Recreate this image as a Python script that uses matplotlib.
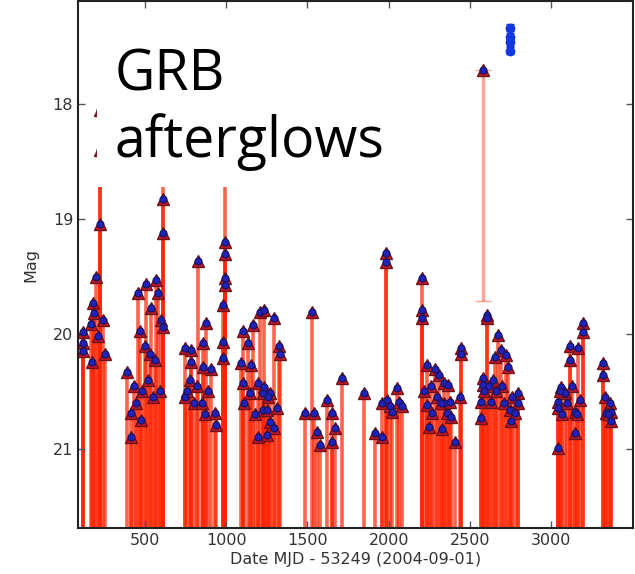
import numpy as np
import matplotlib
matplotlib.use('Agg')
import matplotlib.pyplot as plt
from matplotlib.patches import Rectangle

# detections: date (MJD - 53249) and magnitude
dates = [118, 118, 118, 221, 198, 180, 170, 174, 252, 211, 185, 240, 221, 221,
         389, 414, 414, 457, 506, 469, 500, 537, 568, 580, 611, 611, 599, 611, 562, 531, 611,
         430, 445, 480, 520, 550, 590, 475,
         826, 876, 857, 746, 783, 783, 777, 746, 906, 931, 937, 857,
         760, 800, 820, 850, 890, 870,
         993, 993, 993, 993, 980, 980, 980, 993,
         1103, 1134, 1165, 1208, 1091, 1103, 1153, 1147, 1196, 1227, 1196, 1227,
         1233, 1294, 1325, 1331, 1233, 1270, 1251, 1313, 1270, 1251, 1294,
         1110, 1180, 1260,
         1528, 1485, 1541, 1559, 1578, 1621, 1652, 1670, 1652, 1713,
         1849,
         1916, 1959, 1959, 1990, 2009, 2052, 2064, 2083, 2021, 1984, 1984,
         2206, 2206, 2206, 2237, 2286, 2311, 2341, 2237, 2268, 2341, 2360, 2329, 2249,
         2220, 2260, 2300, 2320,
         2446, 2446, 2440, 2378, 2384, 2409, 2366,
         2581, 2581, 2569, 2569, 2606, 2606, 2674, 2655, 2692, 2723, 2735, 2631,
         2748, 2754, 2797, 2797, 2779,
         2590, 2620, 2640, 2660, 2700, 2710, 2760,
         3062, 3087, 3043, 3043, 3043, 3117, 3117, 3166, 3148, 3179, 3197, 3197, 3148,
         3055, 3070, 3100, 3130, 3160,
         3320, 3320, 3363, 3370, 3370, 3339, 3330, 3350]
mags = [19.98, 20.08, 20.15, 19.04, 19.50, 19.73, 19.91, 20.24, 20.17, 20.02, 19.82, 19.88, 18.05, 18.40,
        20.33, 20.69, 20.90, 19.64, 19.56, 19.97, 20.10, 19.77, 19.53, 19.64, 18.82, 19.12, 19.88, 19.94, 20.23, 20.17, 18.50,
        20.45, 20.60, 20.50, 20.40, 20.55, 20.50, 20.75,
        19.36, 19.90, 20.08, 20.12, 20.14, 20.24, 20.40, 20.55, 20.30, 20.69, 20.79, 20.29,
        20.50, 20.60, 20.45, 20.60, 20.50, 20.70,
        19.20, 19.30, 19.51, 19.57, 19.75, 20.07, 20.21, 18.60,
        19.97, 20.08, 19.92, 19.81, 20.25, 20.43, 20.27, 20.51, 20.43, 20.51, 20.90, 20.66,
        19.79, 19.86, 20.10, 20.17, 20.46, 20.51, 20.66, 20.64, 20.77, 20.88, 20.82,
        20.60, 20.70, 20.55,
        19.81, 20.69, 20.69, 20.85, 20.97, 20.57, 20.69, 20.82, 20.94, 20.38,
        20.51,
        20.86, 20.90, 20.60, 20.57, 20.63, 20.47, 20.59, 20.63, 20.68, 19.29, 19.37,
        19.51, 19.79, 19.86, 20.27, 20.30, 20.36, 20.43, 20.62, 20.69, 20.60, 20.69, 20.83, 20.81,
        20.50, 20.45, 20.55, 20.60,
        20.12, 20.17, 20.55, 20.59, 20.72, 20.94, 20.44,
        20.38, 20.44, 20.59, 20.73, 19.83, 19.86, 20.01, 20.20, 20.14, 20.18, 20.29, 20.59,
        20.66, 20.76, 20.51, 20.60, 20.69,
        20.50, 20.45, 20.40, 20.50, 20.45, 20.60, 20.55,
        20.46, 20.51, 20.59, 20.64, 20.99, 20.10, 20.23, 20.12, 20.68, 20.57, 19.90, 19.98, 20.86,
        20.50, 20.70, 20.60, 20.45, 20.70,
        20.25, 20.36, 20.60, 20.68, 20.76, 20.69, 20.55, 20.70]

# the bright one with a finite error bar
bright_date = [2581]
bright_mag = [17.70]
bright_err = [2.01]

# blue points without limits
blue_dates = [2748, 2748, 2748, 2748]
blue_mags = [17.33, 17.41, 17.46, 17.53]

fig = plt.figure(figsize=(6.35, 5.74), dpi=100)
ax = fig.add_axes([0.123, 0.080, 0.874, 0.918])

ax.vlines(dates, mags, 22.5, color='#ff2200', alpha=0.7, lw=2.6, zorder=1)
ax.errorbar(bright_date, bright_mag, yerr=[[0], bright_err], fmt='none',
            ecolor='#ff2200', alpha=0.4, elinewidth=2.5, capsize=6, zorder=1)
ax.plot(dates + bright_date, mags + bright_mag, '^', ms=9, mfc='#c01828',
        mec='#701018', mew=1.0, zorder=2)
ax.plot(dates + bright_date, mags + bright_mag, 'o', ms=5, mfc='#2222b8',
        mec='#141460', mew=0.8, zorder=3)
ax.errorbar(blue_dates, blue_mags, yerr=0.03, fmt='o', ms=6, color='#1236e0',
            ecolor='#1236e0', capsize=3, zorder=3)

ax.set_xlim(88, 3505)
ax.set_ylim(21.69, 17.10)
ax.set_xticks([500, 1000, 1500, 2000, 2500, 3000])
ax.set_yticks([18, 19, 20, 21])
ax.tick_params(direction='in', top=True, right=True, length=5, width=1,
               labelsize=11.5, labelcolor='#333333', color='#555555')
for s in ax.spines.values():
    s.set_linewidth(1.5)
    s.set_color('#222222')

ax.set_xlabel('Date MJD - 53249 (2004-09-01)', fontsize=11.5, color='#333333', labelpad=3)
ax.set_ylabel('Mag', fontsize=11.5, color='#333333', labelpad=10)

# white label box over the top-left of the plot
fig.patches.append(Rectangle((0.153, 0.674), 0.477, 0.274, transform=fig.transFigure,
                             facecolor='white', edgecolor='none', zorder=10))
fig.text(0.181, 0.843, 'GRB', fontsize=40, family='Open Sans', color='black', zorder=11)
fig.text(0.181, 0.726, 'afterglows', fontsize=40, family='Open Sans', color='black', zorder=11)

fig.savefig('out.png', dpi=100)
